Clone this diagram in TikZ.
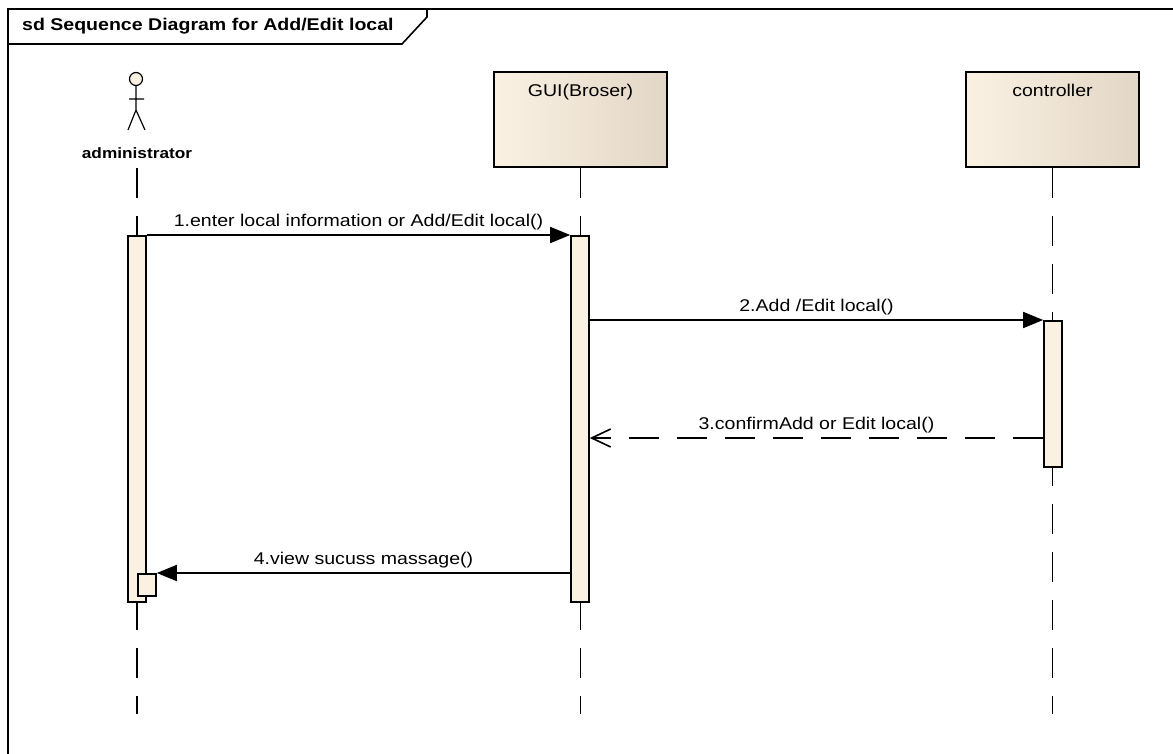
\documentclass[tikz,border=0pt]{standalone}
\usepackage{fontspec}
\setmainfont{Liberation Sans}[FakeStretch=1.15]
\usetikzlibrary{arrows.meta}
\definecolor{creme}{HTML}{FBF1E3}
\definecolor{beige}{HTML}{E2D7C6}
\begin{document}
\begin{tikzpicture}[x=1pt, y=-1pt, line width=1.6pt,
  every node/.style={font=\fontsize{17}{20}\selectfont},
  objet/.style={draw, left color=creme, right color=beige, minimum width=173pt, text height=13pt, text depth=58pt, inner ysep=12pt, anchor=north},
  activ/.style={draw, fill=creme, minimum width=18pt, inner sep=0pt, anchor=north},
  ligne/.style={dash pattern=on 30pt off 18pt},
  appel/.style={-{Triangle[length=20pt,width=16pt]}},
  retour/.style={dash pattern=on 30pt off 18pt, -{Straight Barb[length=19pt,width=18pt]}},
  msg/.style={midway, above=1pt}]
\useasboundingbox (0,0) rectangle (1173,754); % Pour la bounding box

% cadre et titre
\draw[line width=1.8pt] (8,754) -- (8,9) -- (1173,9);
\draw[line width=1.6pt] (8,44) -- (402,44) -- (427,17) -- (427,9);
\node[anchor=base west, font=\fontsize{17}{20}\selectfont\bfseries] (titre) at (18,31) {sd Sequence Diagram for Add/Edit local};

% acteur
\draw[fill=creme, line width=1.2pt] (136,79) circle[radius=6.5];
\draw[line width=1.2pt] (136,85.5) -- (136,110) (129,99) -- (144,99) (128,130) -- (136,110) -- (145,130);
\node[font=\fontsize{15}{18}\selectfont\bfseries] (admin) at (137,153) {administrator};

\node[objet] (gui) at (580.5,71) {GUI(Broser)};
\node[objet] (ctrl) at (1052.5,71) {controller};

\coordinate (fin) at (0,714);
\draw[ligne] (admin |- gui.south) -- (admin |- fin);
\draw[ligne] (gui.south) -- (gui.south |- fin);
\draw[ligne] (ctrl.south) -- (ctrl.south |- fin);

\node[activ, minimum height=366pt] (actA) at (137,235) {};
\node[activ, minimum height=366pt] (actG) at (580,235) {};
\node[activ, minimum height=146pt] (actC) at (1053,320) {};
\node[activ, minimum height=22pt] (actA2) at (147,573) {};

\draw[appel] (actA.north east) -- (actG.north west) node[msg] {1.enter local information or Add/Edit local()};
\draw[appel] (actG.east |- actC.north) -- (actC.north west) node[msg] {2.Add /Edit local()};
\coordinate (r3) at (0,438);
\draw[retour] (actC.west |- r3) -- (actG.east |- r3) node[msg] {3.confirmAdd or Edit local()};
\draw[appel] (actG.west |- actA2.north) -- (actA2.north east) node[msg] {4.view sucuss massage()};
\end{tikzpicture}
\end{document}
